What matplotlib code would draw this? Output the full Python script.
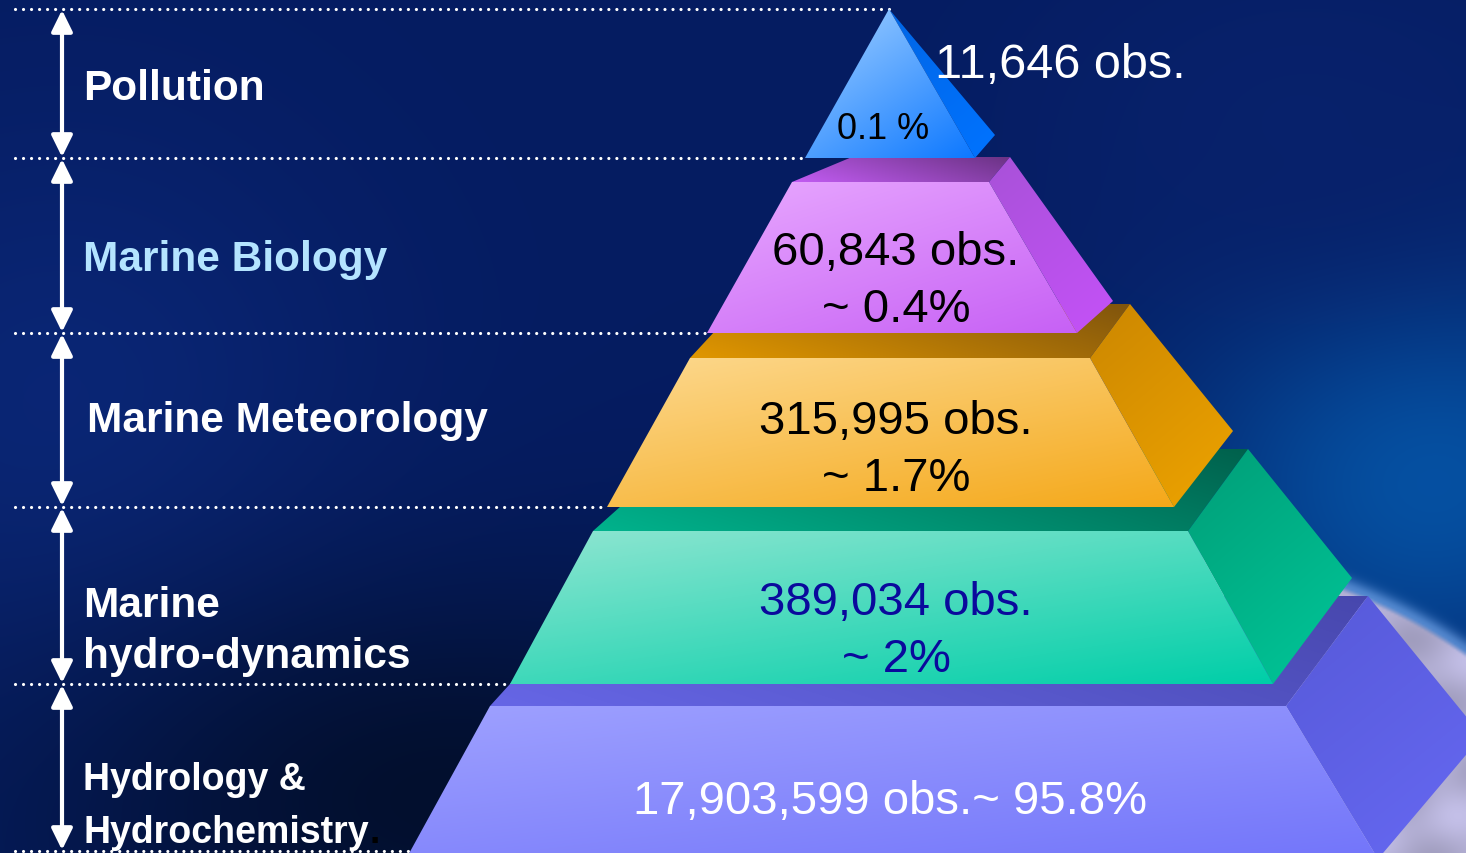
import numpy as np
import matplotlib.pyplot as plt
from matplotlib.patches import Polygon

# data shown on the pyramid (top tier first)
categories = ["Pollution", "Marine Biology", "Marine Meteorology",
              "Marine\nhydro-dynamics", "Hydrology &\nHydrochemistry"]
obs = [11646, 60843, 315995, 389034, 17903599]
pct = ["0.1 %", "~ 0.4%", "~ 1.7%", "~ 2%", "~ 95.8%"]

# layout of the drawing, in pixels (y goes down)
W, H = 1466, 854
y_top = [10, 183, 359, 532, 707]
y_bot = [159, 334, 508, 685, 860]
x_top_l = [889, 792, 690, 593, 490]
x_top_r = [889, 989, 1090, 1188, 1286]
x_bot_l = [805, 707, 607, 510, 406]
x_bot_r = [975, 1077, 1174, 1273, 1378]
back_top = [(889, 10), (1010, 158), (1130, 305), (1248, 450), (1368, 597)]
back_tip = [(995, 136), (1113, 302), (1233, 432), (1352, 579), (1482, 737)]
back_left = [None, (852, 158), (740, 305), (685, 450), (590, 597)]

front_c = [((0.64, 0.82, 1.0), (0.05, 0.47, 1.0)),
           ((0.91, 0.66, 1.0), (0.78, 0.38, 0.96)),
           ((0.99, 0.85, 0.56), (0.96, 0.66, 0.10)),
           ((0.56, 0.90, 0.82), (0.0, 0.81, 0.66)),
           ((0.62, 0.63, 1.0), (0.45, 0.46, 0.98))]
side_c = [((0.0, 0.40, 0.90), (0.0, 0.45, 1.0)),
          ((0.66, 0.32, 0.85), (0.77, 0.32, 0.97)),
          ((0.80, 0.53, 0.0), (0.93, 0.64, 0.0)),
          ((0.0, 0.62, 0.47), (0.0, 0.78, 0.60)),
          ((0.34, 0.35, 0.85), (0.40, 0.41, 0.95))]
top_c = [None,
         ((0.76, 0.36, 0.95), (0.42, 0.20, 0.52)),
         ((0.88, 0.59, 0.0), (0.50, 0.33, 0.05)),
         ((0.0, 0.70, 0.55), (0.0, 0.38, 0.30)),
         ((0.40, 0.40, 0.90), (0.28, 0.28, 0.68))]

plt.rcParams['font.family'] = ['Liberation Sans', 'DejaVu Sans']


def grad_poly(ax, pts, c0, c1, d=(1.0, 1.0), z=2):
    pts = np.array(pts, float)
    x0, y0 = pts.min(0)
    x1, y1 = pts.max(0)
    X, Y = np.meshgrid(np.linspace(0, 1, 64), np.linspace(0, 1, 64))
    t = X * d[0] + Y * d[1]
    t = (t - t.min()) / (t.max() - t.min() + 1e-9)
    img = np.array(c0)[None, None, :] * (1 - t[..., None]) + np.array(c1)[None, None, :] * t[..., None]
    im = ax.imshow(img, extent=(x0, x1, y1, y0), origin='upper', aspect='auto',
                   interpolation='bilinear', zorder=z)
    patch = Polygon(pts, closed=True, fc='none', ec='none', transform=ax.transData)
    ax.add_patch(patch)
    im.set_clip_path(patch)


fig = plt.figure(figsize=(W / 100, H / 100), dpi=100)
ax = fig.add_axes([0, 0, 1, 1])

# background: deep navy sky with a bit of earth in the lower right
yy, xx = np.mgrid[0:H:2, 0:W:2].astype(float)
bg = np.ones(xx.shape + (3,)) * np.array([0.02, 0.11, 0.38])
blobs = [((60, 420, 300, 300), (0.04, 0.15, 0.46)),
         ((450, 800, 420, 220), (0.01, 0.06, 0.18)),
         ((1430, 470, 260, 230), (0.02, 0.32, 0.64)),
         ((1300, 120, 300, 200), (0.03, 0.13, 0.42))]
for (cx, cy, sx, sy), col in blobs:
    w = np.exp(-(((xx - cx) / sx) ** 2 + ((yy - cy) / sy) ** 2))[..., None]
    bg = bg * (1 - w) + np.array(col) * w
d = np.hypot(xx - 1150, yy - 1100)
r = 548
ring = 0.7 * np.exp(-((d - r) / 10) ** 2)[..., None]
bg = bg * (1 - ring) + np.array([0.45, 0.65, 0.92]) * ring
inside = np.clip((r - d) / 5, 0, 1)[..., None]
cloud = 0.72 + 0.07 * np.sin(xx / 23 + yy / 41) * np.cos(yy / 17 - xx / 50)
globe = np.stack([cloud * 0.97, cloud * 0.95, cloud * 1.15], axis=-1).clip(0, 1)
bg = bg * (1 - inside) + globe * inside
ax.imshow(bg, extent=(0, W, H, 0), origin='upper', aspect='auto', interpolation='bilinear', zorder=0)

# pyramid, bottom tier first so upper tiers sit on top
for i in range(4, -1, -1):
    z = 10 + (4 - i) * 3
    if top_c[i] is not None:
        strip = [(x_top_l[i], y_top[i]), back_left[i], back_top[i], (x_top_r[i], y_top[i])]
        grad_poly(ax, strip, top_c[i][0], top_c[i][1], d=(1.0, -0.4), z=z)
    side = [(x_top_r[i], y_top[i]), back_top[i], back_tip[i], (x_bot_r[i], y_bot[i])]
    grad_poly(ax, side, side_c[i][0], side_c[i][1], d=(0.6, 1.0), z=z + 1)
    front = [(x_top_l[i], y_top[i]), (x_top_r[i], y_top[i]),
             (x_bot_r[i], y_bot[i]), (x_bot_l[i], y_bot[i])]
    grad_poly(ax, front, front_c[i][0], front_c[i][1], d=(1.0, 1.3), z=z + 2)

# dotted separators and double arrows on the left
sep_y = [10, 159, 334, 508, 685, 852]
sep_x = [889, 805, 707, 607, 510, 410]
for y, xe in zip(sep_y, sep_x):
    ax.plot([15, xe], [y, y], color='white', lw=2.3, linestyle=(0, (0.01, 2.5)),
            dash_capstyle='round', zorder=5)
for ya, yb in zip(sep_y[:-1], sep_y[1:]):
    ax.annotate('', xy=(62, ya + 1), xytext=(62, yb - 1),
                arrowprops=dict(arrowstyle='<|-|>,head_length=0.65,head_width=0.32',
                                color='white', lw=3, mutation_scale=20,
                                shrinkA=0, shrinkB=0), zorder=6)

ax.set_xlim(0, W)
ax.set_ylim(H, 0)
ax.axis('off')

# category labels
label_x = [83, 83, 87, 83, 83]
label_base = [100, 271, 432, 617, 790]
label_step = [0, 0, 0, 51, 53]
label_size = [30.5, 30.5, 30.5, 30.5, 27]
label_col = ['white', '#b4e4ff', 'white', 'white', 'white']
last = None
for i, name in enumerate(categories):
    for k, line in enumerate(name.split('\n')):
        last = ax.text(label_x[i], label_base[i] + k * label_step[i], line, color=label_col[i],
                       fontsize=label_size[i], fontweight='bold', va='baseline', ha='left', zorder=50)

# small black full stop right after the last label
fig.canvas.draw()
bb = last.get_window_extent()
x_end = ax.transData.inverted().transform((bb.x1, bb.y0))[0]
ax.text(x_end + 1, 843, '.', color='black', fontsize=27, fontweight='bold', va='baseline', zorder=50)

# values on the tiers
ax.text(935, 78, f"{obs[0]:,} obs.", color='white', fontsize=35, ha='left', va='baseline', zorder=50)
ax.text(883, 139, pct[0], color='black', fontsize=26, ha='center', va='baseline', zorder=50)
val_col = ['black', 'black', 'black', '#0a0a9c']
val_base = [0, 265, 434, 615]
for i in range(1, 4):
    ax.text(896, val_base[i], f"{obs[i]:,} obs.", color=val_col[i], fontsize=34,
            ha='center', va='baseline', zorder=50)
    ax.text(896, val_base[i] + 57, pct[i], color=val_col[i], fontsize=34,
            ha='center', va='baseline', zorder=50)
ax.text(890, 814, f"{obs[4]:,} obs.{pct[4]}", color='white', fontsize=34,
        ha='center', va='baseline', zorder=50)

fig.savefig('out.png', dpi=100)
